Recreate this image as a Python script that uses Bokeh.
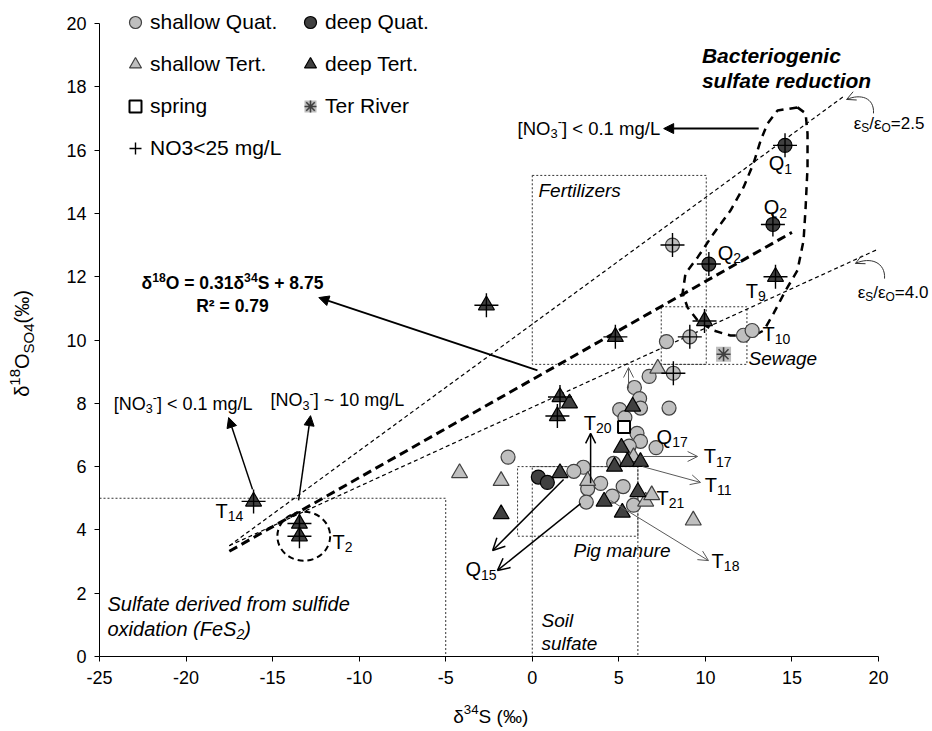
import math
from bokeh.plotting import figure
from bokeh.models import (Range1d, FixedTicker, Label, Arrow, NormalHead, OpenHead,
                          Legend, LegendItem, LinearAxis, Grid)
from bokeh.embed import file_html
from bokeh.resources import INLINE

FONT = "Liberation Sans"

# ---------------------------------------------------------------------------
# Sulfate isotopes: delta34S (permil) vs delta18O-SO4 (permil)
# ---------------------------------------------------------------------------
shallow_quat_s34 = [8.1, 9.1, 12.2, 12.7, 7.75, 6.75, 8.15, 7.9, 5.9, 6.2, 5.05, 6.25,
                    5.35, 6.05, 6.25, 5.6, 7.15, 4.7, 2.95, 2.4, -1.4, 3.95, 5.25, 4.62,
                    3.2, 3.12, 5.85]
shallow_quat_o18 = [13.0, 10.1, 10.15, 10.3, 9.95, 8.85, 8.95, 7.85, 8.5, 8.15, 7.8, 7.85,
                    7.55, 7.05, 6.8, 6.65, 6.6, 6.1, 5.98, 5.85, 6.3, 5.47, 5.37, 5.07,
                    5.3, 4.88, 4.78]

deep_quat_s34 = [14.6, 13.9, 10.2, 0.35, 0.87]
deep_quat_o18 = [16.15, 13.65, 12.4, 5.67, 5.5]

shallow_tert_s34 = [7.25, -4.2, -1.8, 3.2, 6.55, 6.9, 9.3, 5.85]
shallow_tert_o18 = [9.1, 5.8, 5.55, 5.55, 4.9, 5.1, 4.3, 6.3]

deep_tert_s34 = [-16.1, -13.45, -13.45, -2.65, 4.8, 1.6, 2.15, 1.45, 9.95, 14.05,
                 5.8, 5.15, 4.75, 5.5, 6.25, 1.6, -1.8, 4.15, 5.2, 6.1]
deep_tert_o18 = [4.9, 4.2, 3.8, 11.1, 10.1, 8.2, 8.0, 7.6, 10.6, 12.0,
                 7.9, 6.6, 6.0, 6.15, 6.15, 5.8, 4.5, 4.9, 4.55, 5.2]

spring_s34 = [5.3]
spring_o18 = [7.25]

ter_river_s34 = [11.05]
ter_river_o18 = [9.55]

# samples with NO3 < 25 mg/L (marked with a cross)
low_no3_s34 = [-16.1, -13.45, -13.45, -2.65, 4.8, 1.6, 1.45, 9.95, 14.05,
               14.6, 13.9, 10.2, 8.1, 9.1, 8.15]
low_no3_o18 = [4.9, 4.2, 3.8, 11.1, 10.1, 8.2, 7.6, 10.6, 12.0,
               16.15, 13.65, 12.4, 13.0, 10.1, 8.95]

# linear fit d18O = 0.31 d34S + 8.75
reg_slope = 0.31
reg_intercept = 8.75
reg_s34_span = [-17.5, 15.0]

# enrichment-ratio reference lines (eS/eO) starting from a common origin
eps_ratio = [2.5, 4.0]
eps_origin_s34 = -17.5
eps_origin_o18 = 3.5
eps_end_s34 = [18.0, 20.0]

# source fields (dotted boxes): left, right, bottom, top
box_left = [-25.0, 0.0, -0.85, 0.0, 7.45]
box_right = [-5.0, 6.1, 6.1, 10.05, 12.4]
box_bottom = [0.0, 0.0, 3.8, 9.23, 9.23]
box_top = [5.0, 6.0, 6.0, 15.2, 11.05]

# outline of the bacterial sulfate reduction trend
bsr_loop_s34 = [15.32, 15.79, 15.9, 15.9, 15.79, 15.67, 15.32, 14.63, 13.94, 13.37, 12.78,
                11.45, 10.47, 9.55, 8.97, 8.68, 8.85, 9.55, 10.47, 11.45, 12.2, 12.78,
                13.19, 13.59, 14.17, 15.32]
bsr_loop_o18 = [17.35, 17.16, 16.52, 15.45, 14.19, 13.14, 12.2, 11.56, 10.84, 10.3, 10.14,
                10.14, 10.3, 10.62, 11.03, 11.47, 12.1, 12.61, 13.36, 14.09, 14.82, 15.58,
                16.3, 16.84, 17.25, 17.35]

# axis extent and ticks
x_min, x_max = -25, 20
y_min, y_max = 0, 20
x_ticks = list(range(-25, 21, 5))
y_ticks = list(range(0, 21, 2))

# ---------------------------------------------------------------------------
LIGHT = "#BFBFBF"
DARK = "#404040"

W, H = 932, 731
FRAME_L, FRAME_R, FRAME_T, FRAME_B = 99, 878, 23, 656   # axis box inside the canvas
sx = (FRAME_R - FRAME_L) / (x_max - x_min)
sy = (FRAME_B - FRAME_T) / (y_max - y_min)
# the plotting area fills the canvas; the axes are pinned at the data edges
p = figure(width=W, height=H,
           x_range=Range1d(x_min - FRAME_L / sx, x_max + (W - FRAME_R) / sx),
           y_range=Range1d(y_min - (H - FRAME_B) / sy, y_max + FRAME_T / sy),
           x_axis_location=None, y_axis_location=None,
           output_backend="svg", toolbar_location=None,
           min_border=0, min_border_left=0, min_border_right=0,
           min_border_top=0, min_border_bottom=0)
p.outline_line_color = None
for r in list(p.center):
    if isinstance(r, Grid):
        r.visible = False

xaxis = LinearAxis(fixed_location=y_min, bounds=(x_min, x_max),
                   ticker=FixedTicker(ticks=x_ticks),
                   major_label_overrides={t: str(t) for t in x_ticks})
yaxis = LinearAxis(fixed_location=x_min, bounds=(y_min, y_max),
                   ticker=FixedTicker(ticks=y_ticks),
                   major_label_overrides={t: str(t) for t in y_ticks})
for ax in (xaxis, yaxis):
    ax.major_tick_out = 5
    ax.major_tick_in = 0
    ax.minor_tick_out = 0
    ax.minor_tick_in = 0
    ax.axis_line_color = "black"
    ax.major_tick_line_color = "black"
    ax.major_label_text_font = FONT
    ax.major_label_text_font_size = "18px"
    ax.major_label_text_color = "black"
xaxis.major_label_standoff = 9
yaxis.major_label_standoff = 8
p.add_layout(xaxis, "below")
p.add_layout(yaxis, "left")

# source boxes
p.quad(left=box_left, right=box_right, bottom=box_bottom, top=box_top,
       fill_color=None, line_color="#333333", line_width=1, line_dash="2 2")

# reference lines
for r, xe in zip(eps_ratio, eps_end_s34):
    p.line([eps_origin_s34, xe],
           [eps_origin_o18, eps_origin_o18 + (xe - eps_origin_s34) / r],
           line_color="black", line_width=1.2, line_dash="4 3")
p.line(reg_s34_span, [reg_slope * v + reg_intercept for v in reg_s34_span],
       line_color="black", line_width=3, line_dash="9 5")

# dashed outlines
p.line(bsr_loop_s34, bsr_loop_o18, line_color="black", line_width=2.5, line_dash="8 6")
p.ellipse(x=[-13.2], y=[3.8], width=3.05, height=1.55, fill_color=None,
          line_color="black", line_width=2, line_dash="6 4")

# samples
r_sq = p.scatter(shallow_quat_s34, shallow_quat_o18, marker="circle", size=14,
                 fill_color=LIGHT, line_color=DARK, line_width=1.2)
r_dq = p.scatter(deep_quat_s34, deep_quat_o18, marker="circle", size=14,
                 fill_color=DARK, line_color="black", line_width=1.2)
r_st = p.scatter(shallow_tert_s34, shallow_tert_o18, marker="triangle", size=16,
                 fill_color=LIGHT, line_color=DARK, line_width=1.2)
r_dt = p.scatter(deep_tert_s34, deep_tert_o18, marker="triangle", size=16,
                 fill_color=DARK, line_color="black", line_width=1.2)
r_sp = p.scatter(spring_s34, spring_o18, marker="square", size=12,
                 fill_color="white", line_color="black", line_width=2)
r_tr_sq = p.scatter(ter_river_s34, ter_river_o18, marker="square", size=15,
                    fill_color="#BDBDBD", line_color=None)
r_tr_st = p.scatter(ter_river_s34, ter_river_o18, marker="asterisk", size=14,
                    line_color=DARK, line_width=1.6)
r_no3 = p.scatter(low_no3_s34, low_no3_o18, marker="cross", size=24,
                  line_color="black", line_width=1.4)

# curved pointers to the ratio-line labels
p.bezier(x0=[19.71, 20.35], y0=[17.16, 11.94], x1=[18.16, 18.67], y1=[17.6, 12.42],
         cx0=[19.77, 20.41], cy0=[17.66, 12.45], cx1=[18.96, 19.54], cy1=[17.79, 12.64],
         line_color="#333333", line_width=1)

# legend (two columns)
leg_style = dict(orientation="vertical", border_line_color=None, background_fill_alpha=0.0,
                 glyph_width=30, glyph_height=30, label_height=30, spacing=12, padding=0,
                 margin=0, label_standoff=0, label_text_font=FONT,
                 label_text_font_size="21px", label_text_color="black")
leg_a = Legend(items=[LegendItem(label="shallow Quat.", renderers=[r_sq]),
                      LegendItem(label="shallow Tert.", renderers=[r_st]),
                      LegendItem(label="spring", renderers=[r_sp]),
                      LegendItem(label="NO3<25 mg/L", renderers=[r_no3])],
               location=(120, H - 7 - (4 * 30 + 3 * 12)), **leg_style)
leg_b = Legend(items=[LegendItem(label="deep Quat.", renderers=[r_dq]),
                      LegendItem(label="deep Tert.", renderers=[r_dt]),
                      LegendItem(label="Ter River", renderers=[r_tr_sq, r_tr_st])],
               location=(295, H - 7 - (3 * 30 + 2 * 12)), **leg_style)
p.add_layout(leg_a)
p.add_layout(leg_b)

# arrows
def arrow(x0, y0, x1, y1, head="filled", color="black", width=1.5, size=10):
    if head == "filled":
        h = NormalHead(size=size, fill_color=color, line_color=color, line_width=1)
    else:
        h = OpenHead(size=size, line_color=color, line_width=width)
    p.add_layout(Arrow(end=h, x_start=x0, y_start=y0, x_end=x1, y_end=y1,
                       line_color=color, line_width=width))

arrow(13.08, 16.68, 7.59, 16.68, "filled", width=2)
arrow(0.3, 9.04, -12.33, 11.34, "filled", width=1.8)
arrow(-16.16, 5.28, -17.54, 7.55, "filled", width=1.5)
arrow(-13.5, 4.93, -12.81, 7.61, "filled", width=1.5)
arrow(1.81, 5.59, -2.29, 3.35, "open", width=1.5, size=12)
arrow(2.79, 4.83, -2.01, 2.72, "open", width=1.5, size=12)
arrow(3.37, 5.47, 3.37, 7.05, "open", width=1.5, size=10)
arrow(5.56, 8.47, 5.56, 9.13, "open", color="#595959", width=1, size=10)
arrow(6.37, 6.32, 9.55, 6.32, "open", color="#595959", width=1, size=10)
arrow(6.37, 6.0, 9.72, 5.5, "open", color="#595959", width=1, size=10)
arrow(4.52, 4.93, 10.18, 3.03, "open", color="#595959", width=1, size=10)
# heads of the curved pointers
arrow(18.16 + 0.12 * (18.96 - 18.16), 17.6 + 0.12 * (17.79 - 17.6), 18.16, 17.6,
      "open", color="#333333", width=1, size=9)
arrow(18.67 + 0.12 * (19.54 - 18.67), 12.42 + 0.12 * (12.64 - 12.42), 18.67, 12.42,
      "open", color="#333333", width=1, size=9)

# ---------------------------------------------------------------------------
# text helpers (sub/superscripts composed from pieces)
REG_W = {' ': 278, '[': 278, ']': 278, '(': 333, ')': 333, '<': 584, '>': 584, '=': 584,
         '~': 584, '+': 584, '.': 278, '/': 278, '-': 333, ',': 278, '\u2030': 1000,
         '\u03b4': 556, '\u03b5': 446, '\u00b2': 333,
         'A': 667, 'B': 667, 'C': 722, 'D': 722, 'E': 667, 'F': 611, 'G': 778, 'H': 722,
         'I': 278, 'L': 556, 'M': 833, 'N': 722, 'O': 778, 'P': 667, 'Q': 778, 'R': 722,
         'S': 667, 'T': 611,
         'a': 556, 'b': 556, 'c': 500, 'd': 556, 'e': 556, 'f': 278, 'g': 556, 'h': 556,
         'i': 222, 'l': 222, 'm': 833, 'n': 556, 'o': 556, 'p': 556, 'r': 333, 's': 500,
         't': 278, 'u': 556, 'v': 500, 'w': 722, 'x': 500, 'z': 500}
BOLD_W = dict(REG_W)
BOLD_W.update({'\u03b4': 611, 'b': 611, 'd': 611, 'g': 611, 'h': 611, 'n': 611,
               'o': 611, 'p': 611, 'u': 611, 'r': 389, 'c': 556, 's': 556,
               'i': 278, 'l': 278, 't': 333, 'f': 333})


def text_width(s, size, bold=False):
    tbl = BOLD_W if bold else REG_W
    return sum(tbl.get(c, 556) for c in s) * size / 1000.0


def rich(x, y, parts, size, bold=False, italic=False, align="left", angle=0.0,
         color="black", scale=0.7):
    style = ("bold " if bold else "") + ("italic" if italic else "")
    style = style.strip() or "normal"
    pieces, total = [], 0.0
    for txt, kind in parts:
        fs = size if kind == "n" else size * scale
        pieces.append((txt, kind, fs, total))
        total += text_width(txt, fs, bold)
    start = {"left": 0.0, "center": -total / 2.0, "right": -total}[align]
    c, s = math.cos(angle), math.sin(angle)
    for txt, kind, fs, adv in pieces:
        a = start + adv
        dy = {"n": 0.0, "sub": -0.28 * size, "sup": 0.36 * size}[kind]
        p.add_layout(Label(x=x, y=y, x_offset=a * c - dy * s, y_offset=a * s + dy * c,
                           text=txt, angle=angle, text_font=FONT,
                           text_font_size=f"{fs:.1f}px", text_font_style=style,
                           text_color=color, text_baseline="middle", text_align="left"))


# axis titles
rich(-2.4, -1.9, [("\u03b4", "n"), ("34", "sup"), ("S (\u2030)", "n")], 19, align="center")
rich(-29.45, 9.98, [("\u03b4", "n"), ("18", "sup"), ("O", "n"), ("SO4", "sub"),
                    (" (\u2030)", "n")], 20, align="center", angle=math.pi / 2, scale=0.75)

# field names
rich(9.8, 18.99, [("Bacteriogenic", "n")], 21, bold=True, italic=True)
rich(9.8, 18.2, [("sulfate  reduction", "n")], 21, bold=True, italic=True)
rich(0.36, 14.72, [("Fertilizers", "n")], 19, italic=True)
rich(12.49, 9.42, [("Sewage", "n")], 19, italic=True)
rich(2.38, 3.35, [("Pig manure", "n")], 19, italic=True)
rich(0.53, 1.14, [("Soil", "n")], 19, italic=True)
rich(0.53, 0.41, [("sulfate", "n")], 19, italic=True)
rich(-24.54, 1.67, [("Sulfate derived from sulfide", "n")], 20, italic=True)
rich(-24.54, 0.88, [("oxidation (FeS", "n"), ("2", "sub"), (")", "n")], 20, italic=True)

# nitrate notes
no3_lt = [("[NO", "n"), ("3", "sub"), ("-", "sup"), ("] < 0.1 mg/L", "n")]
rich(-0.85, 16.68, no3_lt, 18.5)
rich(-24.18, 7.99, no3_lt, 18)
rich(-15.12, 8.09, [("[NO", "n"), ("3", "sub"), ("-", "sup"), ("] ~ 10 mg/L", "n")], 18)

# ratio labels
rich(18.57, 16.84, [("\u03b5", "n"), ("S", "sub"), ("/\u03b5", "n"), ("O", "sub"),
                    ("=2.5", "n")], 17)
rich(18.8, 11.5, [("\u03b5", "n"), ("S", "sub"), ("/\u03b5", "n"), ("O", "sub"),
                  ("=4.0", "n")], 17)

# regression equation
rich(-17.32, 11.79, [("\u03b4", "n"), ("18", "sup"), ("O = 0.31\u03b4", "n"), ("34", "sup"),
                     ("S + 8.75", "n")], 17.5, bold=True, align="center")
rich(-17.32, 11.09, [("R\u00b2 = 0.79", "n")], 17.5, bold=True, align="center")

# sample names
sample_tags = [("Q", "1", 13.66, 15.58), ("Q", "2", 13.37, 14.19), ("Q", "2", 10.71, 12.76),
               ("T", "9", 12.33, 11.56), ("T", "10", 13.3, 10.2), ("T", "20", 2.97, 7.39),
               ("Q", "17", 7.18, 6.95), ("T", "17", 9.9, 6.32), ("T", "11", 9.96, 5.43),
               ("T", "21", 7.18, 5.02), ("T", "18", 10.36, 3.03), ("Q", "15", -3.86, 2.75),
               ("T", "14", -18.3, 4.61), ("T", "2", -11.54, 3.63)]
for main, sub, tx, ty in sample_tags:
    rich(tx, ty, [(main, "n"), (sub, "sub")], 20)

open("out.html", "w").write(file_html(p, INLINE))
